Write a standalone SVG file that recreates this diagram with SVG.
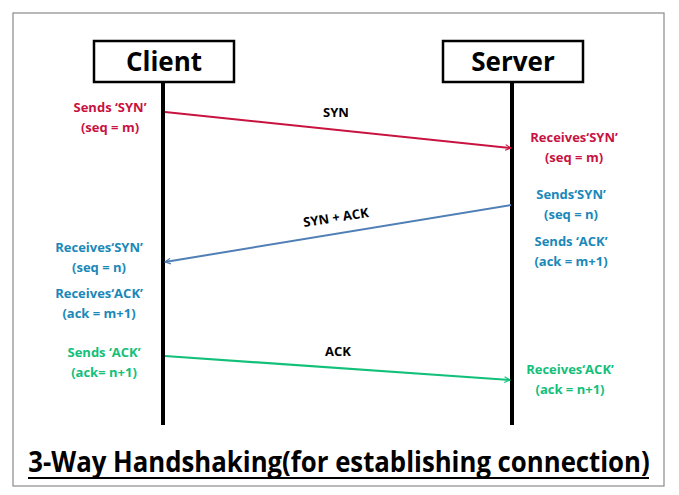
<svg xmlns="http://www.w3.org/2000/svg" width="679" height="495" viewBox="0 0 679 495">
<defs>
<style>
.t{font-family:"Open Sans","Liberation Sans",sans-serif;font-weight:bold;text-anchor:middle}
.lbl{font-size:13px}
.red{fill:#c8123f}
.blue{fill:#1a88b8}
.green{fill:#12c07a}
.box{fill:#fff;stroke:#000;stroke-width:2.5}
.life{stroke:#000;stroke-width:4}
</style>
<marker id="mr" viewBox="0 0 10 10" refX="9" refY="5" markerWidth="7" markerHeight="7" orient="auto" markerUnits="userSpaceOnUse"><path d="M1,1 L9,5 L1,9" fill="none" stroke="#c8123f" stroke-width="1.6"/></marker>
<marker id="mb" viewBox="0 0 10 10" refX="9" refY="5" markerWidth="7" markerHeight="7" orient="auto" markerUnits="userSpaceOnUse"><path d="M1,1 L9,5 L1,9" fill="none" stroke="#4f7fb5" stroke-width="1.6"/></marker>
<marker id="mg" viewBox="0 0 10 10" refX="9" refY="5" markerWidth="7" markerHeight="7" orient="auto" markerUnits="userSpaceOnUse"><path d="M1,1 L9,5 L1,9" fill="none" stroke="#12c07a" stroke-width="1.6"/></marker>
</defs>
<rect x="0" y="0" width="679" height="495" fill="#fff"/>
<rect x="13" y="13" width="651" height="473" fill="#fff" stroke="#8a8a8a" stroke-width="1.2"/>

<g id="client">
<line class="life" x1="163" y1="82" x2="163" y2="425"/>
<rect class="box" x="94" y="41" width="140" height="41"/>
<text class="t" x="164" y="71" font-size="26">Client</text>
</g>
<g id="server">
<line class="life" x1="512" y1="82" x2="512" y2="425"/>
<rect class="box" x="443" y="41" width="140" height="41"/>
<text class="t" x="513" y="71" font-size="26">Server</text>
</g>

<g id="connectors">
<line x1="165" y1="112" x2="511" y2="148" stroke="#c8123f" stroke-width="2" marker-end="url(#mr)"/>
<line x1="511" y1="205" x2="165" y2="262" stroke="#4f7fb5" stroke-width="2" marker-end="url(#mb)"/>
<line x1="165" y1="356" x2="510" y2="380" stroke="#12c07a" stroke-width="2.2" marker-end="url(#mg)"/>
<text class="t lbl" x="336" y="117" fill="#000">SYN</text>
<text class="t lbl" x="336" y="222" fill="#000" transform="rotate(-9 336 218)">SYN + ACK</text>
<text class="t lbl" x="338" y="356" fill="#000">ACK</text>
</g>

<g id="client-notes">
<text class="t lbl red" x="110" y="112">Sends ‘SYN’</text>
<text class="t lbl red" x="110" y="132">(seq = m)</text>
<text class="t lbl blue" x="99" y="252">Receives‘SYN’</text>
<text class="t lbl blue" x="99" y="272">(seq = n)</text>
<text class="t lbl blue" x="99" y="298">Receives‘ACK’</text>
<text class="t lbl blue" x="99" y="318">(ack = m+1)</text>
<text class="t lbl green" x="104" y="357">Sends ‘ACK’</text>
<text class="t lbl green" x="104" y="377">(ack= n+1)</text>
</g>

<g id="server-notes">
<text class="t lbl red" x="574" y="142">Receives‘SYN’</text>
<text class="t lbl red" x="574" y="162">(seq = m)</text>
<text class="t lbl blue" x="571" y="199">Sends‘SYN’</text>
<text class="t lbl blue" x="571" y="219">(seq = n)</text>
<text class="t lbl blue" x="571" y="246">Sends ‘ACK’</text>
<text class="t lbl blue" x="571" y="266">(ack = m+1)</text>
<text class="t lbl green" x="570" y="374">Receives‘ACK’</text>
<text class="t lbl green" x="570" y="394">(ack = n+1)</text>
</g>

<g id="title">
<text transform="translate(339 472) scale(0.92 1)" x="0" y="0" font-family="Open Sans, Liberation Sans, sans-serif" font-size="28" font-weight="bold" text-anchor="middle" fill="#000">3-Way Handshaking(for establishing connection)</text>
<line x1="28" y1="478" x2="649" y2="478" stroke="#000" stroke-width="2"/>
</g>
</svg>
